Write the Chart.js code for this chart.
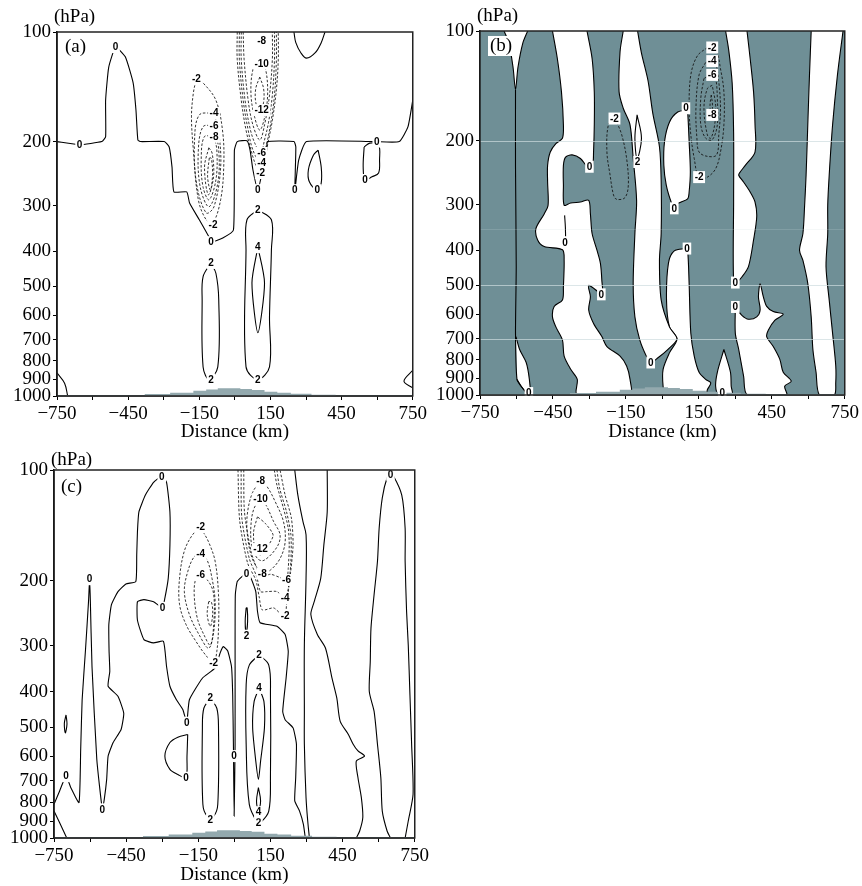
<!DOCTYPE html>
<html><head><meta charset="utf-8">
<script src="https://cdn.jsdelivr.net/npm/chart.js@4/dist/chart.umd.min.js"></script>
<style>
html,body{margin:0;padding:0;background:#fff;}
body{width:862px;height:886px;position:relative;overflow:hidden;}
canvas{position:absolute;display:block;}
</style></head><body>
<canvas id="ca" width="430" height="445" style="left:0;top:0;width:430px;height:445px"></canvas>
<canvas id="cb" width="432" height="445" style="left:430px;top:0;width:432px;height:445px"></canvas>
<canvas id="cc" width="432" height="441" style="left:0;top:445px;width:432px;height:441px"></canvas>
<script>
// ---------- axes ----------
const X_TICKS = [-750,-600,-450,-300,-150,0,150,300,450,600,750];
const X_LABELED = [-750,-450,-150,150,450,750];
const Y_TICKS = [100,200,300,400,500,600,700,800,900,1000];

// ---------- terrain (km left edge, hPa top) ----------
const TERRAIN_KM  = [-750,-380,-273,-175,-121,-72,23,72,125,179,236,323,425,750];
const TERRAIN_HPA = [996,988,979,968,960,952,957,962,973,979,986,992,996,996];

// ---------- panel (a) contours [km, hPa] ----------
const A_ZERO_MAIN = [[-750,200],[-655,204],[-561,200],[-545,194],[-545,154],[-532,125],[-503,110],[-462,117],[-429,138],[-417,164],[-409,198],[-397,200],[-298,200],[-277,207],[-265,235],[-257,275],[-203,275],[-191,295],[-150,328],[-109,366],[-101,378],[-51,368],[-6,350],[-2,211],[10,200],[51,199],[64,211],[76,239],[97,272],[117,239],[134,211],[138,200],[249,200],[257,207],[253,272],[269,225],[302,200],[590,200],[693,200],[730,182],[750,154]];
const A_ZERO_TOP = [[249,100],[257,107],[278,114],[302,118],[339,114],[364,107],[380,100]];
const A_ZERO_OV1 = [[351,211],[364,235],[364,260],[347,272],[314,258],[310,239],[331,218],[351,211]];
const A_ZERO_OV2 = [[545,207],[569,202],[606,204],[610,225],[606,244],[578,250],[549,255],[541,235],[545,207]];
const A_ZERO_BL = [[-750,864],[-718,922],[-705,1000]];
const A_ZERO_BR = [[750,850],[713,911],[750,950]];
const A_POS2_L = [[-101,431],[-134,470],[-138,545],[-134,832],[-109,900],[-72,832],[-68,545],[-80,460],[-101,431]];
const A_POS2_R = [[97,308],[51,328],[47,397],[47,832],[97,900],[146,832],[146,606],[154,397],[154,328],[97,308]];
const A_POS4 = [[97,390],[72,489],[97,670],[125,489],[97,390]];
const A_NEG2_L = [[-162,134],[-134,138],[-80,154],[-51,189],[-47,235],[-60,289],[-92,334],[-121,328],[-154,289],[-175,211],[-183,171],[-175,147],[-162,134]];
const A_NEG4_L = [[-88,167],[-150,169],[-170,198],[-162,260],[-121,314],[-88,302],[-60,235],[-68,189],[-88,167]];
const A_NEG6_L = [[-88,181],[-134,182],[-154,211],[-146,267],[-109,302],[-72,260],[-68,211],[-88,181]];
const A_NEG8_L = [[-88,194],[-129,194],[-142,225],[-134,267],[-109,289],[-80,255],[-76,211],[-88,194]];
const A_NEG10_L = [[-110,208],[-128,235],[-112,280],[-90,250],[-96,215],[-110,208]];
const A_NEG12_L = [[-108,222],[-115,250],[-103,272],[-94,245],[-100,222],[-108,222]];
const A_NEG2_R = [[10,100],[10,119],[27,154],[47,186],[68,211],[88,232],[109,244],[125,225],[142,198],[158,175],[175,144],[183,119],[183,100]];
const A_NEG4_R = [[19,100],[19,119],[35,154],[56,186],[76,211],[109,229],[130,208],[150,180],[167,149],[175,119],[175,100]];
const A_NEG6_R = [[27,100],[27,119],[43,154],[64,184],[84,202],[109,215],[125,198],[142,177],[158,149],[167,119],[167,100]];
const A_NEG8_R = [[35,100],[39,119],[56,154],[76,180],[105,198],[125,180],[146,149],[158,119],[158,100]];
const A_NEG10_R = [[105,118],[76,127],[68,149],[84,172],[105,186],[125,172],[138,149],[130,127],[105,118]];
const A_NEG12_R = [[105,133],[88,143],[88,156],[105,167],[121,156],[121,143],[105,133]];
const A_LABELS = [[-655,204,'0'],[-503,110,'0'],[-101,378,'0'],[97,272,'0'],[253,272,'0'],[347,272,'0'],[598,200,'0'],[549,255,'0'],
 [-162,134,'-2'],[-92,339,'-2'],[-88,167,'-4'],[-88,181,'-6'],[-88,194,'-8'],
 [113,106,'-8'],[113,122,'-10'],[113,164,'-12'],[113,215,'-6'],[113,229,'-4'],[109,244,'-2'],
 [-101,431,'2'],[-101,900,'2'],[97,308,'2'],[97,900,'2'],[97,390,'4']];

// ---------- panel (b) positive (white) regions and contours ----------
const B_WHITE_V = [[-651,100],[-631,108],[-614,126],[-604,145],[-594,126],[-574,108],[-554,100]];
const B_WHITE_BL = [[-602,691],[-587,750],[-560,814],[-547,906],[-544,1000],[-560,983],[-581,946],[-598,906]];
const B_WHITE_2 = [[-452,100],[-432,119],[-415,147],[-407,181],[-411,197],[-438,204],[-461,215],[-472,234],[-472,260],[-470,301],[-486,318],[-520,349],[-513,375],[-486,391],[-411,399],[-404,427],[-407,504],[-411,548],[-445,571],[-452,610],[-438,650],[-411,706],[-404,782],[-377,850],[-350,906],[-350,1000],
 [-133,1000],[-133,906],[-147,832],[-174,782],[-228,736],[-249,691],[-283,636],[-303,584],[-296,537],[-303,500],[-249,526],[-249,484],[-255,434],[-269,400],[-289,360],[-296,318],[-303,292],[-337,295],[-377,297],[-404,301],[-407,265],[-407,234],[-398,222],[-371,219],[-337,224],[-303,238],[-287,234],[-283,215],[-280,181],[-280,147],[-289,119],[-310,100]];
const B_WHITE_3 = [[-161,100],[-174,114],[-178,147],[-161,163],[-133,181],[-120,224],[-106,292],[-113,360],[-120,494],[-113,610],[-93,706],[-66,782],[-48,814],[-18,790],[22,750],[60,702],[29,650],[-5,548],[-12,427],[-5,360],[-5,257],[-12,208],[-39,169],[-59,137],[-86,115],[-102,100]];
const B_WHITE_4 = [[101,165],[63,167],[29,178],[9,201],[6,234],[16,265],[36,295],[49,307],[63,298],[104,289],[110,277],[115,244],[110,201],[104,167],[101,165]];
const B_WHITE_6 = [[97,396],[49,402],[25,434],[17,548],[29,650],[60,702],[29,766],[3,850],[3,946],[13,1000],[178,1000],[185,967],[199,926],[178,906],[151,866],[131,782],[117,677],[110,494],[104,400],[97,396]];
const B_WHITE_TEAR = [[253,750],[226,866],[219,946],[232,1000],[287,1000],[283,946],[280,866],[253,750]];
const B_WHITE_5 = [[260,100],[273,113],[287,139],[293,191],[293,292],[293,489],[307,489],[327,474],[354,444],[375,375],[388,324],[381,295],[361,277],[334,260],[314,249],[320,244],[341,234],[381,215],[381,181],[375,147],[361,119],[348,100]];
const B_WHITE_LOW = [[300,573],[327,604],[354,619],[388,610],[402,584],[395,537],[402,495],[415,537],[429,571],[456,590],[497,600],[463,623],[436,663],[429,691],[456,736],[483,798],[497,866],[530,916],[503,946],[510,1000],[350,1000],[334,888],[314,750],[300,677],[300,573]];
const B_WHITE_R = [[612,100],[605,132],[598,181],[591,249],[585,301],[578,360],[564,400],[578,427],[598,494],[612,610],[619,750],[632,866],[646,1000],[707,1000],[713,926],[713,832],[700,677],[686,548],[673,444],[680,360],[680,301],[686,249],[700,181],[720,132],[743,100]];
const B_ZERO_LINE = [[-604,145],[-604,236],[-601,444],[-604,677],[-598,906],[-581,946],[-560,983],[-547,1000]];
const B_ZERO_SLIVER = [[-402,321],[-399,345],[-398,367]];
const B_POS2 = [[-104,170],[-113,197],[-104,224],[-86,197],[-104,170]];
const B_NEG2_L = [[-197,174],[-188,178],[-167,193],[-147,224],[-140,265],[-154,287],[-188,290],[-201,282],[-215,249],[-228,215],[-222,181],[-197,174]];
const B_NEG2_R = [[185,111],[144,117],[117,132],[110,163],[117,193],[131,224],[151,254],[185,252],[219,239],[239,215],[253,181],[253,147],[239,127],[219,112],[185,111]];
const B_NEG4 = [[178,122],[151,132],[138,163],[142,197],[151,215],[185,221],[223,219],[232,193],[239,163],[232,138],[219,123],[199,121],[178,122]];
const B_NEG6 = [[171,135],[158,153],[158,181],[178,197],[205,199],[226,181],[226,153],[219,135],[205,132],[171,135]];
const B_NEG8 = [[205,141],[185,144],[171,163],[185,193],[199,197],[215,181],[219,160],[205,141]];
const B_NEG8_IN = [[201,150],[196,160],[201,175],[206,160],[201,150]];
const B_LABELS = [[-549,988,'0'],[-300,236,'0'],[-400,381,'0'],[-251,529,'0'],[-48,814,'0'],[97,163,'0'],[49,307,'0'],[101,396,'0'],[300,491,'0'],[300,573,'0'],[246,988,'0'],
 [-197,174,'-2'],[-102,229,'2'],[205,111,'-2'],[205,121,'-4'],[205,132,'-6'],[205,170,'-8'],[151,252,'-2']];
const B_FAINT_HPA = [200,500,700];
const B_FAINTER_HPA = [350];

// ---------- panel (c) contours ----------
const C_ZERO_MAIN = [[-750,810],[-727,746],[-700,679],[-680,730],[-646,801],[-639,574],[-633,421],[-619,308],[-606,225],[-602,198],[-599,225],[-592,342],[-572,612],[-549,836],[-541,785],[-531,693],[-525,599],[-504,550],[-471,507],[-460,458],[-484,412],[-525,387],[-518,353],[-521,311],[-522,263],[-511,232],[-484,214],[-451,204],[-410,201],[-406,170],[-403,147],[-397,130],[-370,117],[-336,108],[-302,104],[-282,108],[-268,130],[-268,160],[-275,197],[-289,223],[-299,237],[-336,228],[-376,225],[-403,228],[-403,256],[-376,289],[-336,295],[-295,292],[-282,342],[-268,387],[-241,421],[-214,448],[-198,486],[-187,421],[-133,368],[-80,345],[-59,314],[-46,302],[-28,310],[-12,342],[-7,408],[-4,556],[-1,872],[3,556],[3,299],[4,218],[12,201],[35,194],[51,191],[69,197],[89,214],[96,242],[107,260],[177,266],[211,280],[224,311],[215,368],[201,453],[211,477],[244,502],[258,556],[255,686],[251,793],[271,845],[287,918],[295,1000]];
const C_ZERO_D = [[251,100],[264,117],[285,138],[298,150],[298,197],[291,299],[291,453],[291,556],[298,777],[305,899],[312,1000]];
const C_ZERO_E = [[386,100],[386,130],[372,160],[359,197],[332,228],[318,247],[345,280],[379,305],[406,368],[426,417],[440,482],[474,523],[494,556],[514,580],[541,599],[507,618],[514,686],[528,777],[534,880],[521,957],[507,1000]];
const C_ZERO_F = [[649,1000],[635,957],[615,845],[609,686],[595,556],[581,453],[561,400],[565,332],[568,269],[581,218],[595,177],[602,144],[615,119],[635,105],[649,103],[662,104],[696,117],[710,144],[710,177],[716,242],[723,299],[730,408],[737,556],[743,761],[723,899],[710,1000]];
const C_ZERO_OV = [[-700,463],[-707,488],[-703,518],[-696,490],[-700,463]];
const C_ZERO_BL = [[-750,845],[-727,908],[-697,1000]];
const C_ZERO_SEMI = [[-194,523],[-235,532],[-268,550],[-289,599],[-268,651],[-235,672],[-201,686],[-197,599],[-194,523]];
const C_POS2_THIN = [[49,237],[45,258],[49,278],[55,258],[53,237],[49,237]];
const C_POS2_L = [[-100,417],[-127,444],[-133,502],[-131,810],[-113,872],[-86,872],[-69,810],[-66,502],[-73,444],[-100,417]];
const C_POS2_R = [[103,318],[62,339],[49,383],[49,556],[62,810],[96,908],[109,908],[143,845],[150,686],[150,408],[143,339],[103,318]];
const C_POS4_U = [[103,391],[82,426],[76,502],[89,618],[100,693],[109,618],[125,502],[123,426],[103,391]];
const C_POS4_D = [[100,730],[92,793],[100,845],[109,793],[100,730]];
const C_NEG2_L = [[-140,143],[-174,150],[-208,166],[-228,197],[-228,232],[-201,263],[-160,292],[-120,318],[-86,334],[-73,311],[-66,269],[-66,218],[-80,177],[-107,157],[-133,146],[-140,143]];
const C_NEG4_L = [[-140,169],[-167,172],[-194,189],[-208,214],[-187,247],[-147,280],[-107,305],[-86,275],[-80,228],[-93,197],[-113,176],[-140,169]];
const C_NEG6_L = [[-140,193],[-160,197],[-167,218],[-154,253],[-127,280],[-100,299],[-86,263],[-86,218],[-107,201],[-140,193]];
const C_NEG8_L = [[-107,228],[-113,247],[-100,266],[-90,245],[-96,228],[-107,228]];
const C_NEG2_R = [[15,100],[22,137],[55,179],[89,199],[103,221],[116,240],[163,237],[190,245],[211,249],[217,232],[231,197],[244,160],[237,135],[211,117],[190,100]];
const C_NEG4_R = [[28,100],[31,135],[62,174],[93,195],[109,214],[136,214],[177,214],[211,223],[224,210],[235,177],[235,150],[217,130],[188,112],[177,100]];
const C_NEG6_R = [[39,100],[42,130],[69,166],[96,187],[116,195],[150,192],[190,196],[217,199],[224,185],[228,160],[224,144],[204,127],[177,110],[166,100]];
const C_NEG8_R = [[109,107],[76,115],[55,130],[53,147],[69,170],[96,185],[116,191],[150,187],[190,174],[211,157],[204,138],[170,122],[136,111],[109,107]];
const C_NEG10_R = [[109,120],[82,127],[69,141],[72,160],[96,174],[123,176],[177,162],[190,150],[163,138],[130,124],[109,120]];
const C_NEG12_R = [[96,134],[80,147],[85,163],[109,170],[161,151],[130,140],[96,134]];
const C_LABELS = [[-700,679,'0'],[-602,198,'0'],[-549,836,'0'],[-302,104,'0'],[-299,237,'0'],[-198,486,'0'],[-201,686,'0'],[-1,599,'0'],[51,191,'0'],[649,103,'0'],
 [51,282,'2'],[-100,417,'2'],[-100,890,'2'],[103,318,'2'],[100,908,'2'],[103,391,'4'],[100,851,'4'],
 [-140,143,'-2'],[-86,334,'-2'],[211,249,'-2'],[-140,169,'-4'],[211,223,'-4'],[-140,193,'-6'],[217,199,'-6'],
 [109,107,'-8'],[116,191,'-8'],[109,120,'-10'],[109,164,'-12']];

// ---------- styling helpers ----------
const GREY = '#6f8f96';
const TERRAIN_COLOR = '#93a9ae';
const SERIF = '"Liberation Serif", "DejaVu Serif", serif';

function pts(arr){ return arr.map(p => ({x:p[0], y:p[1]})); }
function contour(arr, level, tension){
  const neg = level < 0;
  return {data: pts(arr), borderColor: neg ? '#111' : '#000', borderWidth: neg ? 0.85 : 1.1, borderDash: neg ? [2.5,1.8] : [],
          pointRadius:0, tension: tension === undefined ? 0.35 : tension, fill:false, order:1};
}
function whiteRegion(arr){
  return {data: pts(arr), borderColor:'#000', borderWidth:1.1, backgroundColor:'#fff',
          pointRadius:0, tension:0.3, fill:'shape', order:2};
}
function terrain(){
  return {data: TERRAIN_KM.map((x,i)=>({x:x, y:TERRAIN_HPA[i]})), stepped:true, borderWidth:0,
          borderColor:'rgba(0,0,0,0)', backgroundColor:TERRAIN_COLOR, pointRadius:0, fill:{value:1000}, order:0};
}

const decoPlugin = {
  id:'panelDeco',
  beforeDatasetsDraw(chart, args, o){
    const a = chart.chartArea, ctx = chart.ctx;
    if (o.bg){ ctx.save(); ctx.fillStyle = o.bg; ctx.fillRect(a.left, a.top, a.right-a.left, a.bottom-a.top); ctx.restore(); }
  },
  afterDatasetsDraw(chart, args, o){
    const a = chart.chartArea, ctx = chart.ctx, xs = chart.scales.x, ys = chart.scales.y;
    ctx.save();
    const hline = (list, col) => {
      ctx.strokeStyle = col; ctx.lineWidth = 1;
      list.forEach(p => { const y = Math.round(ys.getPixelForValue(p))+0.5; ctx.beginPath(); ctx.moveTo(a.left,y); ctx.lineTo(a.right,y); ctx.stroke(); });
    };
    if (o.faint) hline(o.faint, 'rgba(205,220,222,0.7)');
    if (o.fainter) hline(o.fainter, 'rgba(205,220,222,0.2)');
    // contour labels
    ctx.font = 'bold 10px "Liberation Sans", Arial, sans-serif';
    ctx.textAlign = 'center'; ctx.textBaseline = 'middle';
    (o.labels||[]).forEach(l => {
      const x = xs.getPixelForValue(l[0]), y = ys.getPixelForValue(l[1]);
      const w = ctx.measureText(l[2]).width + 3;
      ctx.fillStyle = '#fff'; ctx.fillRect(x - w/2, y - 6, w, 12);
      ctx.fillStyle = '#000'; ctx.fillText(l[2], x, y + 0.5);
    });
    // frame
    ctx.strokeStyle = '#222'; ctx.lineWidth = 1.5;
    ctx.strokeRect(a.left, a.top, a.right - a.left, a.bottom - a.top);
    // texts
    ctx.font = '19px ' + SERIF; ctx.textAlign = 'left'; ctx.textBaseline = 'middle'; ctx.fillStyle = '#000';
    ctx.fillText('(hPa)', a.left - 3, o.hpaY);
    if (o.tagBox){ const w = ctx.measureText(o.tag).width + 4; ctx.fillStyle = '#fff'; ctx.fillRect(a.left + o.tagDx - 2, a.top + o.tagDy - 10, w, 20); ctx.fillStyle = '#000'; }
    ctx.fillText(o.tag, a.left + o.tagDx, a.top + o.tagDy);
    ctx.restore();
  }
};

function makeChart(id, datasets, p){
  return new Chart(document.getElementById(id), {
    type:'line',
    data:{datasets: datasets},
    options:{
      responsive:false, animation:false, events:[],
      layout:{padding:{top:p.padTop, right:p.padRight, left:0, bottom:0}},
      plugins:{legend:{display:false}, tooltip:{enabled:false}, panelDeco:p.deco},
      scales:{
        x:{type:'linear', min:-750, max:750,
           afterBuildTicks: s => { s.ticks = X_TICKS.map(v => ({value:v})); },
           afterFit: s => { s.height = p.xh; },
           grid:{drawOnChartArea:false, drawTicks:true, tickLength:4, color:'#000'},
           border:{display:true, color:'#000', width:1.5},
           ticks:{autoSkip:false, maxRotation:0, padding:3, color:'#000', font:{family:SERIF, size:19},
                  callback: v => X_LABELED.includes(v) ? (v < 0 ? '\u2212' + (-v) : String(v)) : ''},
           title:{display:true, text:'Distance (km)', color:'#000', font:{family:SERIF, size:19}, padding:{top:0, bottom:p.titlePad}}},
        y:{type:'logarithmic', min:100, max:1000, reverse:true,
           afterBuildTicks: s => { s.ticks = Y_TICKS.map(v => ({value:v})); },
           afterFit: s => { s.width = p.yw; },
           grid:{drawOnChartArea:false, drawTicks:true, tickLength:4, color:'#000'},
           border:{display:true, color:'#000', width:1.5},
           ticks:{autoSkip:false, padding:2, color:'#000', font:{family:SERIF, size:19}, callback: v => String(v)}}
      }
    },
    plugins:[decoPlugin]
  });
}

// ---------- panel (a) ----------
makeChart('ca', [
  terrain(),
  contour(A_ZERO_MAIN, 0, 0.15), contour(A_ZERO_TOP, 0), contour(A_ZERO_OV1, 0), contour(A_ZERO_OV2, 0),
  contour(A_ZERO_BL, 0), contour(A_ZERO_BR, 0),
  contour(A_POS2_L, 2), contour(A_POS2_R, 2), contour(A_POS4, 4, 0.25),
  contour(A_NEG2_L, -2), contour(A_NEG4_L, -4), contour(A_NEG6_L, -6), contour(A_NEG8_L, -8), contour(A_NEG10_L, -10), contour(A_NEG12_L, -12),
  contour(A_NEG2_R, -2), contour(A_NEG4_R, -4), contour(A_NEG6_R, -6), contour(A_NEG8_R, -8), contour(A_NEG10_R, -10), contour(A_NEG12_R, -12)
], {padTop:32, padRight:8, yw:57, xh:49, titlePad:2,
    deco:{labels:A_LABELS, hpaY:17, tag:'(a)', tagDx:8, tagDy:15}});

// ---------- panel (b) ----------
makeChart('cb', [
  terrain(),
  contour(B_ZERO_LINE, 0, 0.2), contour(B_ZERO_SLIVER, 0),
  contour(B_POS2, 2), contour(B_NEG2_L, -2), contour(B_NEG2_R, -2), contour(B_NEG4, -4), contour(B_NEG6, -6), contour(B_NEG8, -8), contour(B_NEG8_IN, -10),
  whiteRegion(B_WHITE_V), whiteRegion(B_WHITE_BL), whiteRegion(B_WHITE_2), whiteRegion(B_WHITE_3), whiteRegion(B_WHITE_4),
  whiteRegion(B_WHITE_6), whiteRegion(B_WHITE_TEAR), whiteRegion(B_WHITE_5), whiteRegion(B_WHITE_LOW), whiteRegion(B_WHITE_R)
], {padTop:31, padRight:13, yw:50, xh:50, titlePad:2,
    deco:{bg:GREY, faint:B_FAINT_HPA, fainter:B_FAINTER_HPA, labels:B_LABELS, hpaY:16, tag:'(b)', tagDx:10, tagDy:15, tagBox:true}});

// ---------- panel (c) ----------
makeChart('cc', [
  terrain(),
  contour(C_ZERO_MAIN, 0, 0.15), contour(C_ZERO_D, 0), contour(C_ZERO_E, 0, 0.25), contour(C_ZERO_F, 0, 0.25),
  contour(C_ZERO_OV, 0), contour(C_ZERO_BL, 0), contour(C_ZERO_SEMI, 0, 0.3),
  contour(C_POS2_THIN, 2), contour(C_POS2_L, 2), contour(C_POS2_R, 2), contour(C_POS4_U, 4, 0.25), contour(C_POS4_D, 4),
  contour(C_NEG2_L, -2), contour(C_NEG4_L, -4), contour(C_NEG6_L, -6), contour(C_NEG8_L, -8),
  contour(C_NEG2_R, -2, 0.25), contour(C_NEG4_R, -4, 0.25), contour(C_NEG6_R, -6, 0.25), contour(C_NEG8_R, -8), contour(C_NEG10_R, -10), contour(C_NEG12_R, -12, 0.25)
], {padTop:25, padRight:7, yw:54, xh:48, titlePad:0,
    deco:{labels:C_LABELS, hpaY:15, tag:'(c)', tagDx:7, tagDy:17}});
</script>
</body></html>
